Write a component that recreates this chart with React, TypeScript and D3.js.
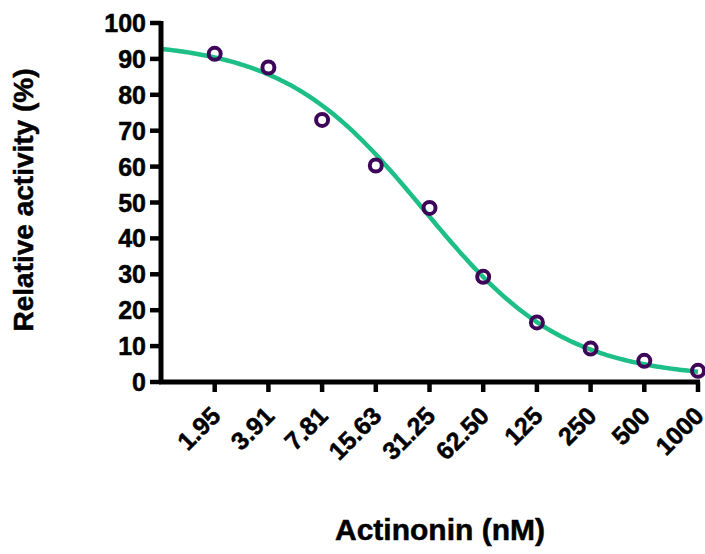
import React from "react";
import * as d3 from "d3";

// Actinonin concentrations (nM) and measured relative activity (%)
const concentrations = [1.953125, 3.90625, 7.8125, 15.625, 31.25, 62.5, 125, 250, 500, 1000];
const tickLabels = ["1.95", "3.91", "7.81", "15.63", "31.25", "62.50", "125", "250", "500", "1000"];
const activity = [91.4, 87.6, 73.0, 60.3, 48.5, 29.3, 16.6, 9.3, 5.9, 3.1];
const yTicks = [0, 10, 20, 30, 40, 50, 60, 70, 80, 90, 100];

// four-parameter logistic fit of the dose-response
const fitTop = 95;
const fitBottom = 1;
const fitIC50 = 29;
const fitHill = 1.1;

const W = 705;
const H = 554;
const left = 161;
const right = 698;
const top = 23;
const bottom = 382;

const FONT = "'Liberation Sans', Arial, sans-serif";

export default function App() {
  const x = d3.scaleLog().domain([1000 / 1024, 1000]).range([left, right]);
  const y = d3.scaleLinear().domain([0, 100]).range([bottom, top]);

  const fit = (c: number) => fitBottom + (fitTop - fitBottom) / (1 + Math.pow(c / fitIC50, fitHill));
  const lo = Math.log10(1000 / 1024);
  const curveX = d3.range(0, 201).map(i => Math.pow(10, lo + (i / 200) * (3 - lo)));
  const line = d3.line<number>()
    .x(c => x(c))
    .y(c => y(fit(c)));

  // labels a touch heavier, like the original bold Arial
  const heavy = { stroke: "#000", strokeWidth: 0.5 };

  return (
    <svg width={W} height={H} style={{ position: "absolute", left: 0, top: 0, background: "#fff" }}>
      {/* curve */}
      <path d={line(curveX) || ""} fill="none" stroke="#1dbf87" strokeWidth={4.5} />

      {/* points */}
      {concentrations.map((c, i) => (
        <circle key={c} cx={x(c)} cy={y(activity[i])} r={6} fill="none" stroke="#3e0659" strokeWidth={4} />
      ))}

      {/* axes */}
      <line x1={left} x2={left} y1={top - 2} y2={bottom + 2} stroke="#000" strokeWidth={5} />
      <line x1={left - 2} x2={right + 2} y1={bottom} y2={bottom} stroke="#000" strokeWidth={5} />

      {yTicks.map(t => (
        <g key={t} transform={`translate(${left},${y(t)})`}>
          <line x1={-11} x2={0} y1={0} y2={0} stroke="#000" strokeWidth={4.5} />
          <text x={-15} y={0} dy="0.36em" textAnchor="end" fontFamily={FONT} fontWeight="bold" fontSize={25} fill="#000" {...heavy}>{t}</text>
        </g>
      ))}

      {concentrations.map((c, i) => (
        <g key={c} transform={`translate(${x(c)},${bottom})`}>
          <line x1={0} x2={0} y1={0} y2={10} stroke="#000" strokeWidth={4.5} />
          <text transform="translate(1,29) rotate(-45)" textAnchor="end" dy="0.36em" fontFamily={FONT} fontWeight="bold" fontSize={25} fill="#000" {...heavy}>{tickLabels[i]}</text>
        </g>
      ))}

      <text transform="translate(33,200) rotate(-90)" textAnchor="middle" fontFamily={FONT} fontWeight="bold" fontSize={28} fill="#000" {...heavy}>Relative activity (%)</text>
      <text x={440} y={540} textAnchor="middle" fontFamily={FONT} fontWeight="bold" fontSize={30} fill="#000" {...heavy}>Actinonin (nM)</text>
    </svg>
  );
}
